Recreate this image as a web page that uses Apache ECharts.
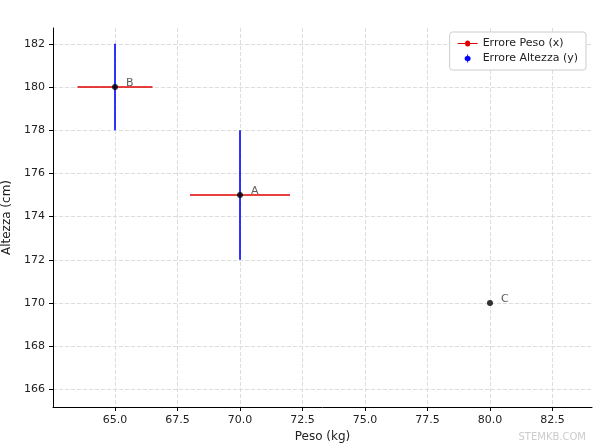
<!DOCTYPE html>
<html><head><meta charset="utf-8">
<script src="https://cdn.jsdelivr.net/npm/echarts@6/dist/echarts.min.js"></script>
<style>html,body{margin:0;padding:0;background:#fff}#c{width:600px;height:448px}</style>
</head><body><div id="c"></div>
<script>
const labels = ['A','B','C'];
const peso = [70, 65, 80];
const altezza = [175, 180, 170];
const errPeso = [2, 1.5, 0];
const errAltezza = [3, 2, 0];
const xTicks = [65, 67.5, 70, 72.5, 75, 77.5, 80, 82.5];
const yTicks = [166, 168, 170, 172, 174, 176, 178, 180, 182];

const chart = echarts.init(document.getElementById('c'));
const font = 'DejaVu Sans';
function errSeries(name, color, horiz) {
  return {
    name, type: 'custom', itemStyle:{color},
    data: peso.map((x,i)=>[x, altezza[i], horiz?errPeso[i]:errAltezza[i]]),
    renderItem(params, api) {
      const x = api.value(0), y = api.value(1), e = api.value(2);
      if (!e) return null;
      const p1 = horiz ? api.coord([x-e,y]) : api.coord([x,y-e]);
      const p2 = horiz ? api.coord([x+e,y]) : api.coord([x,y+e]);
      return {type:'line', shape:{x1:p1[0],y1:p1[1],x2:p2[0],y2:p2[1]}, style:{stroke:color,lineWidth:1.6}};
    }
  };
}
chart.setOption({
  animation:false,
  textStyle:{fontFamily:font},
  grid:{left:53, right:8, top:28, bottom:41, containLabel:false, outerBoundsMode:'none'},
  legend:{right:14, top:32, orient:'vertical', itemGap:4, itemWidth:20, itemHeight:8,
    backgroundColor:'#fff', borderColor:'#ccc', borderWidth:1, borderRadius:3, padding:[6,8],
    textStyle:{fontSize:11, color:'#222'},
    data:[{name:'Errore Peso (x)', icon:'path://M0,3.5h7.5a2.5,2.5 0 1 1 5,0h7.5v1h-7.5a2.5,2.5 0 1 1 -5,0h-7.5z'},
          {name:'Errore Altezza (y)', icon:'path://M9.5,0h1v1.5a2.5,2.5 0 1 1 0,5v1.5h-1v-1.5a2.5,2.5 0 1 1 0,-5z'}]},
  xAxis:{type:'value', min:62.52, max:84.08, name:'Peso (kg)', nameLocation:'middle', nameGap:22,
    nameTextStyle:{fontSize:12, color:'#222'},
    axisLine:{lineStyle:{color:'#000'}}, axisTick:{customValues:xTicks, length:4, lineStyle:{color:'#000'}},
    axisLabel:{customValues:xTicks, color:'#222', fontSize:11, formatter:v=>v.toFixed(1)},
    splitLine:{show:true, lineStyle:{type:'dashed', color:'#ddd'}}},
  yAxis:{type:'value', min:165.19, max:182.73, name:'Altezza (cm)', nameLocation:'middle', nameGap:33,
    nameTextStyle:{fontSize:12, color:'#222'},
    axisLine:{show:true, lineStyle:{color:'#000'}}, axisTick:{show:true, customValues:yTicks, length:4, lineStyle:{color:'#000'}},
    axisLabel:{customValues:yTicks, color:'#222', fontSize:11},
    splitLine:{show:true, lineStyle:{type:'dashed', color:'#ddd'}}},
  graphic:[{type:'text', right:14, bottom:6, style:{text:'STEMKB.COM', fill:'#ccc', font:'10px '+font}}],
  series:[
    errSeries('Errore Peso (x)', '#e00000', true),
    errSeries('Errore Altezza (y)', '#0000ff', false),
    {type:'scatter', name:'pts', symbolSize:6, itemStyle:{color:'#000'}, z:5,
      data: peso.map((x,i)=>({value:[x, altezza[i]], name:labels[i]})),
      label:{show:true, formatter:'{b}', position:'right', offset:[3,-4], color:'#333', fontSize:11}}
  ]
});
</script></body></html>
